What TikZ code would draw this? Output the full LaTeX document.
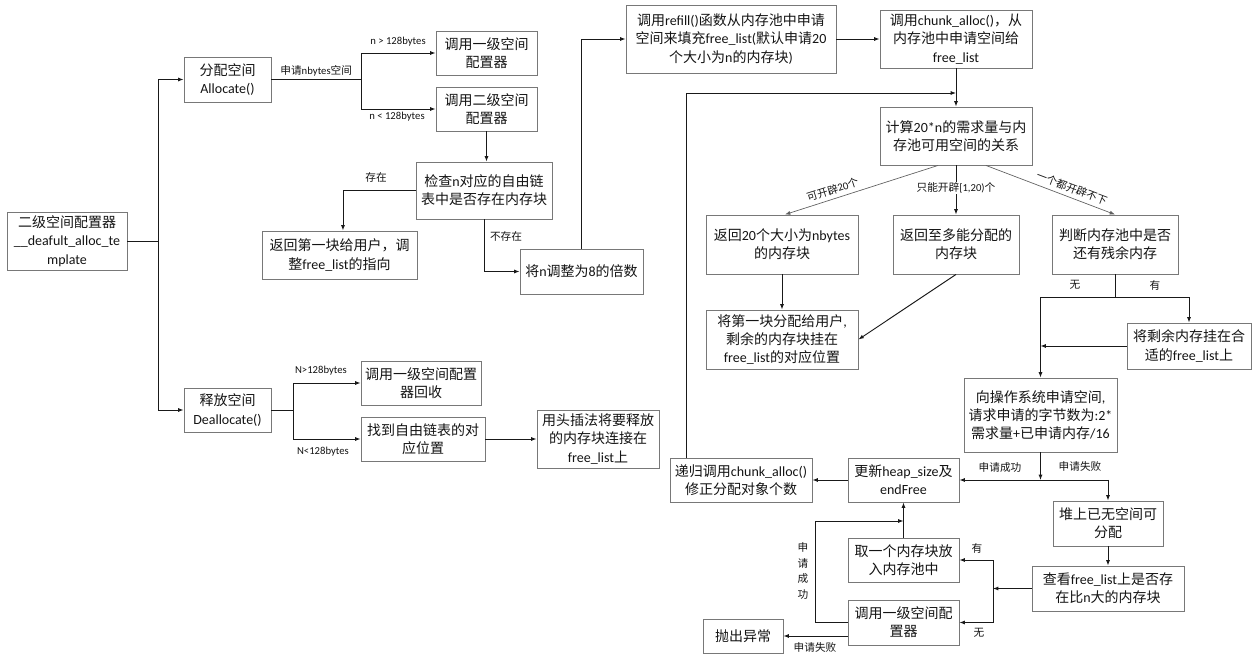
\documentclass[tikz,border=0pt]{standalone}
\usepackage{fontspec}
\setmainfont{Carlito}
\newfontfamily\cjkf{Noto Sans CJK SC}
\usetikzlibrary{arrows.meta,calc}
\XeTeXinterchartokenstate=1
\newXeTeXintercharclass\cjkcls
\newcount\tmpc
\tmpc="4E00
\loop \XeTeXcharclass\tmpc=\cjkcls \advance\tmpc by 1 \ifnum\tmpc<"A000 \repeat
\tmpc="3000
\loop \XeTeXcharclass\tmpc=\cjkcls \advance\tmpc by 1 \ifnum\tmpc<"3040 \repeat
\tmpc="FF00
\loop \XeTeXcharclass\tmpc=\cjkcls \advance\tmpc by 1 \ifnum\tmpc<"FFF0 \repeat
\XeTeXinterchartoks 0 \cjkcls = {\cjkf}
\XeTeXinterchartoks 4095 \cjkcls = {\cjkf}
\XeTeXinterchartoks \cjkcls 0 = {\rmfamily}
\XeTeXinterchartoks \cjkcls 4095 = {\rmfamily}
\definecolor{boxc}{RGB}{120,120,120}
\definecolor{linec}{RGB}{25,25,25}
\definecolor{diagc}{RGB}{95,95,95}
\definecolor{txt}{RGB}{20,20,20}
\tikzset{
  box/.style={draw=boxc, line width=0.7pt, fill=white, inner sep=0pt, align=center,
    font=\fontsize{10.5pt}{13.7pt}\selectfont, text=txt},
  sz/.style 2 args={minimum width=#1*0.75pt, minimum height=#2*0.75pt},
  lbl/.style={font=\fontsize{8pt}{9.5pt}\selectfont, inner sep=1pt, text=txt},
  wire/.style={draw=linec, line width=0.7pt},
  conn/.style={draw=linec, line width=0.7pt, -{Latex[length=4pt,width=3pt]}},
  diag/.style={draw=diagc, line width=0.5pt, -{Latex[length=4pt,width=3pt]}}
}
\begin{document}
\begin{tikzpicture}[x=0.75pt,y=-0.75pt]
\path[fill=white] (0,0) rectangle (1258,659);
\useasboundingbox (0,0) rectangle (1258,659);
% boxes
\node[box, sz={120}{58}] (root) at (67,241) {二级空间配置器\\\_\_deafult\_alloc\_te\\mplate};
\node[box, sz={87}{45}] (alloc) at (227.5,79.5) {分配空间\\Allocate()};
\node[box, sz={101}{44}] (l1) at (486.5,53) {调用一级空间\\配置器};
\node[box, sz={101}{44}] (l2) at (486.5,109) {调用二级空间\\配置器};
\node[box, sz={136}{57}] (check) at (484,190.5) {检查n对应的自由链\\表中是否存在内存块};
\node[box, sz={155}{48}] (ret1) at (339.5,255) {返回第一块给用户，调\\整free\_list的指向};
\node[box, sz={123}{45}] (adj8) at (581.5,271.5) {将n调整为8的倍数};
\node[box, sz={210}{68}] (refill) at (731,39) {调用refill()函数从内存池中申请\\空间来填充free\_list(默认申请20\\个大小为n的内存块)};
\node[box, sz={152}{58}] (chunk) at (956,39) {调用chunk\_alloc()，从\\内存池中申请空间给\\free\_list};
\node[box, sz={152}{58}] (calc) at (956,136) {计算20*n的需求量与内\\存池可用空间的关系};
\node[box, sz={152}{59}] (ret20) at (782,244.5) {返回20个大小为nbytes\\的内存块};
\node[box, sz={126}{59}] (retmost) at (956,244.5) {返回至多能分配的\\内存块};
\node[box, sz={126}{59}] (judge) at (1115,244.5) {判断内存池中是否\\还有残余内存};
\node[box, sz={152}{59}] (first) at (782,339.5) {将第一块分配给用户,\\剩余的内存块挂在\\free\_list的对应位置};
\node[box, sz={124}{46}] (rest) at (1189,346) {将剩余内存挂在合\\适的free\_list上};
\node[box, sz={153}{74}] (os) at (1040.5,415) {向操作系统申请空间,\\请求申请的字节数为:2*\\需求量+已申请内存/16};
\node[box, sz={142}{44}] (recur) at (741,480) {递归调用chunk\_alloc()\\修正分配对象个数};
\node[box, sz={111}{44}] (upd) at (903.5,480) {更新heap\_size及\\endFree};
\node[box, sz={110}{45}] (heap) at (1108,523.5) {堆上已无空间可\\分配};
\node[box, sz={152}{45}] (look) at (1108,588.5) {查看free\_list上是否存\\在比n大的内存块};
\node[box, sz={111}{44}] (take) at (903.5,560) {取一个内存块放\\入内存池中};
\node[box, sz={111}{45}] (l1b) at (903.5,622.5) {调用一级空间配\\置器};
\node[box, sz={80}{34}] (throw) at (743,636) {抛出异常};
\node[box, sz={87}{44}] (dealloc) at (227.5,410) {释放空间\\Deallocate()};
\node[box, sz={120}{44}] (l1r) at (421,383) {调用一级空间配置\\器回收};
\node[box, sz={124}{44}] (find) at (423,439) {找到自由链表的对\\应位置};
\node[box, sz={122}{58}] (head) at (598,439) {用头插法将要释放\\的内存块连接在\\free\_list上};
% junction coordinates
\coordinate (jr) at (158,241);
\coordinate (ja) at (361,79.5);
\coordinate (jc) at (956,93);
\coordinate (jj) at (1115,297);
\coordinate (jv) at (993,588.5);
\coordinate (js) at (815,521);
\coordinate (jd) at (293,410);
% connectors left
\draw[wire] (root.east) -- (jr);
\draw[conn] (jr) |- (alloc.west);
\draw[conn] (jr) |- (dealloc.west);
\draw[wire] (alloc.east) -- (ja) node[lbl, midway, above, inner sep=2pt] (lbnb) {申请nbytes空间};
\draw[conn] (ja) |- (l1.west);
\draw[conn] (ja) |- (l2.west);
\node[lbl] (lbgt) at (398,42) {n > 128bytes};
\node[lbl] (lblt) at (397,117) {n < 128bytes};
\draw[conn] (l2.south) -- (l2.south |- check.north);
\draw[conn] (check.west) -| ([xshift=2.6pt]ret1.north);
\node[lbl] (lbex) at (376,177) {存在};
\draw[conn] (check.south) |- (adj8.west);
\node[lbl] (lbnex) at (506,236) {不存在};
\draw[conn] (adj8.north) |- (refill.west);
\draw[conn] (refill.east) -- (chunk.west);
\draw[conn] (chunk.south) -- (calc.north);
\draw[conn] ([xshift=12.75pt]recur.north west) |- (jc);
% from calc
\draw[diag] ([xshift=-13.5pt]calc.south) -- ([xshift=2.25pt]ret20.north)
  node[lbl, pos=0.67, sloped, above, inner sep=3pt] (lb20) {可开辟20个};
\draw[conn] (calc.south) -- (retmost.north)
  node[lbl, pos=0.46, fill=white, inner sep=0.5pt] (lb120) {只能开辟[1,20)个};
\draw[diag] ([xshift=22.5pt]calc.south) -- (judge.north)
  node[lbl, pos=0.64, sloped, above, inner sep=3pt] (lbnone) {一个都开辟不下};
\draw[conn] (ret20.south) -- (first.north);
\draw[conn] (retmost.south) -- (first.east);
% judge
\draw[wire] (judge.south) -- (jj);
\draw[conn] (jj) -| (os.north);
\draw[conn] (jj) -| (rest.north);
\node[lbl] (lbno1) at (1075,285) {无};
\node[lbl] (lbyes1) at (1155,285) {有};
\draw[conn] (rest.west) -- (rest.west -| os.north);
% os
\draw[conn] (os.south) -- (os.south |- upd.east);
\draw[conn] (upd.east -| heap.north) -- (upd.east);
\draw[conn] (upd.east -| heap.north) -- (heap.north);
\node[lbl] (lbok1) at (1000,467) {申请成功};
\node[lbl] (lbfail1) at (1080,466) {申请失败};
\draw[conn] (upd.west) -- (recur.east);
\draw[conn] (heap.south) -- (look.north);
\draw[conn] (look.west) -- (jv);
\draw[conn] (jv) |- (take.east);
\draw[conn] (jv) |- (l1b.east);
\node[lbl] (lbyes2) at (977,548) {有};
\node[lbl] (lbno2) at (979,633) {无};
\draw[conn] (take.north) -- (upd.south);
\draw[conn] (l1b.west) -| (js) -- (js -| take.north);
\node[lbl, align=center, font=\fontsize{8pt}{11.6pt}\selectfont] (lbok2) at (803,571) {申\\请\\成\\功};
\draw[conn] (l1b.west |- throw.east) -- (throw.east);
\node[lbl] (lbfail2) at (815,647) {申请失败};
% dealloc
\draw[wire] (dealloc.east) -- (jd);
\draw[conn] (jd) |- (l1r.west);
\draw[conn] (jd) |- (find.west);
\node[lbl] (lbN1) at (321,371) {N>128bytes};
\node[lbl] (lbN2) at (323,452) {N<128bytes};
\draw[conn] (find.east) -- (head.west);
\end{tikzpicture}
\end{document}
